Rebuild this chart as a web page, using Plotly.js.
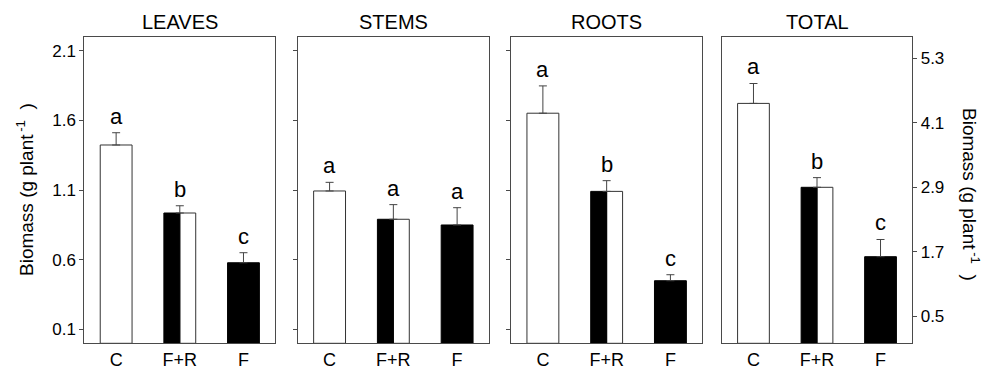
<!DOCTYPE html>
<html>
<head>
<meta charset="utf-8">
<script src="https://cdn.plot.ly/plotly-3.0.1.min.js"></script>
<style>
  html, body { margin: 0; padding: 0; background: #fff; }
  #chart { width: 986px; height: 369px; }
</style>
</head>
<body>
<div id="chart"></div>
<script>
// ---- data ----
const categories = ['C', 'F+R', 'F'];
const panelTitles = ['LEAVES', 'STEMS', 'ROOTS', 'TOTAL'];

const leavesMean = [1.423, 0.935, 0.578];
const leavesErr  = [0.088, 0.052, 0.072];
const leavesLetters = ['a', 'b', 'c'];

const stemsMean = [1.093, 0.890, 0.849];
const stemsErr  = [0.062, 0.105, 0.124];
const stemsLetters = ['a', 'a', 'a'];

const rootsMean = [1.651, 1.090, 0.449];
const rootsErr  = [0.196, 0.077, 0.043];
const rootsLetters = ['a', 'b', 'c'];

const totalMean = [4.46, 2.90, 1.61];
const totalErr  = [0.37, 0.18, 0.32];
const totalLetters = ['a', 'b', 'c'];

const leftTicks  = [0.1, 0.6, 1.1, 1.6, 2.1];
const rightTicks = [0.5, 1.7, 2.9, 4.1, 5.3];
const leftRange  = [0, 2.2];
const rightRange = [0, 5.7];
const yTitle = 'Biomass (g plant<sup>\u2009-1</sup>\u00a0\u00a0)';

// ---- layout geometry (pixels) ----
const W = 986, H = 369;
const panelX = [[84.3, 275.3], [297.7, 489], [511, 702.3], [721.7, 912.3]];
const plotTop = 36.7, plotBottom = 343.3;
const yDom = [(H - plotBottom) / H, (H - plotTop) / H];

const FONT = 'Liberation Sans, Arial, sans-serif';
const LINE = '#4a4a4a';

const means = [leavesMean, stemsMean, rootsMean, totalMean];
const errs = [leavesErr, stemsErr, rootsErr, totalErr];
const letters = [leavesLetters, stemsLetters, rootsLetters, totalLetters];

const traces = [];
const annotations = [];
const layout = {
  width: W, height: H,
  margin: { l: 0, r: 0, t: 0, b: 0 },
  paper_bgcolor: '#fff', plot_bgcolor: '#fff',
  showlegend: false,
  barmode: 'overlay',
  font: { family: FONT, color: '#000' },
};

for (let i = 0; i < 4; i++) {
  const n = i + 1;
  const xa = 'x' + (n === 1 ? '' : n);
  const ya = 'y' + (n === 1 ? '' : n);
  const m = means[i], e = errs[i];

  // white bars: C (full) and right half of F+R
  traces.push({
    type: 'bar', xaxis: xa, yaxis: ya,
    x: [categories[0], categories[1]], y: [m[0], m[1]],
    width: [0.5, 0.25], offset: [-0.25, 0],
    marker: { color: '#fff', line: { color: '#333', width: 1 } },
    hoverinfo: 'skip'
  });
  // black bars: left half of F+R and F (full)
  traces.push({
    type: 'bar', xaxis: xa, yaxis: ya,
    x: [categories[1], categories[2]], y: [m[1], m[2]],
    width: [0.25, 0.5], offset: [-0.25, -0.25],
    marker: { color: '#000', line: { color: '#000', width: 1 } },
    hoverinfo: 'skip'
  });
  // error bars (upper only)
  traces.push({
    type: 'scatter', mode: 'markers', xaxis: xa, yaxis: ya,
    x: categories, y: m,
    marker: { size: 1, color: 'rgba(0,0,0,0)' },
    error_y: { type: 'data', symmetric: false, array: e, arrayminus: [0, 0, 0],
               color: '#444', thickness: 1, width: 4 },
    hoverinfo: 'skip'
  });
  // significance letters
  categories.forEach((c, k) => {
    annotations.push({
      xref: xa, yref: ya, x: c, y: m[k] + e[k],
      text: letters[i][k], showarrow: false,
      yanchor: 'bottom', yshift: 2,
      font: { family: FONT, size: 22, color: '#000' }
    });
  });
  // panel title
  annotations.push({
    xref: 'paper', yref: 'paper',
    x: (panelX[i][0] + panelX[i][1]) / 2 / W, y: yDom[1],
    xanchor: 'center', yanchor: 'bottom', yshift: 2,
    text: panelTitles[i], showarrow: false,
    font: { family: FONT, size: 20, color: '#000' }
  });

  layout['xaxis' + (n === 1 ? '' : n)] = {
    domain: [panelX[i][0] / W, panelX[i][1] / W],
    anchor: ya, type: 'category',
    categoryorder: 'array', categoryarray: categories,
    range: [-0.5, 2.5],
    showline: true, mirror: true, linecolor: LINE, linewidth: 1,
    ticks: '', showgrid: false, zeroline: false, fixedrange: true,
    tickfont: { family: FONT, size: 18, color: '#000' }
  };
  const isTotal = (i === 3);
  layout['yaxis' + (n === 1 ? '' : n)] = {
    domain: yDom, anchor: xa,
    side: isTotal ? 'right' : 'left',
    range: isTotal ? rightRange : leftRange,
    tickmode: 'array', tickvals: isTotal ? rightTicks : leftTicks,
    tickformat: '.1f',
    ticks: 'outside', ticklen: 4, tickcolor: LINE, tickwidth: 1,
    showticklabels: (i === 0 || isTotal),
    showline: true, mirror: true, linecolor: LINE, linewidth: 1,
    showgrid: false, zeroline: false, fixedrange: true,
    tickfont: { family: FONT, size: 17, color: '#000' }
  };
}

// axis titles
annotations.push({
  xref: 'paper', yref: 'paper', x: 25 / W, y: (H - 190) / H,
  xanchor: 'center', yanchor: 'middle', textangle: -90,
  text: yTitle, showarrow: false,
  font: { family: FONT, size: 19, color: '#000' }
});
annotations.push({
  xref: 'paper', yref: 'paper', x: 971 / W, y: (H - 194) / H,
  xanchor: 'center', yanchor: 'middle', textangle: 90,
  text: yTitle, showarrow: false,
  font: { family: FONT, size: 19, color: '#000' }
});

layout.annotations = annotations;

Plotly.newPlot('chart', traces, layout, { staticPlot: true, displayModeBar: false });
</script>
</body>
</html>
